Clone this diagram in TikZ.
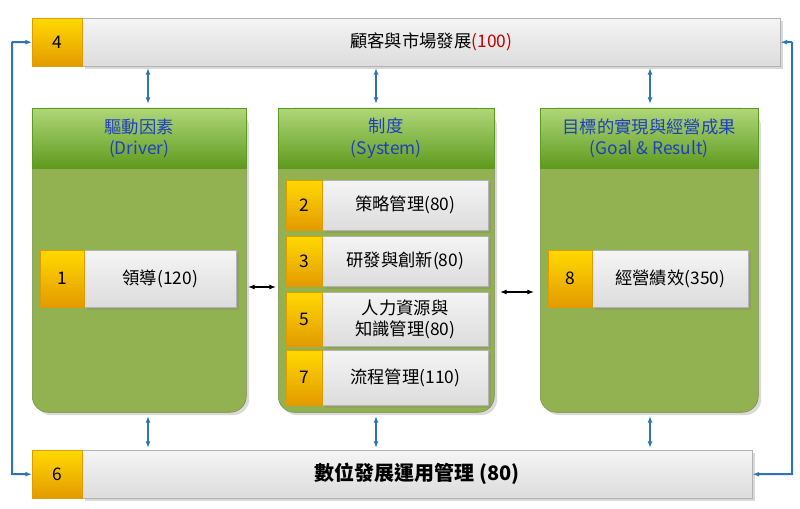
\documentclass[tikz,border=0pt]{standalone}
\usepackage{fontspec}
\newfontfamily\cjk{Noto Sans CJK TC}
\usetikzlibrary{arrows.meta,shadows,calc}
\definecolor{hdr}{HTML}{8DC63F}
\definecolor{hdrd}{HTML}{5E9A1E}
\definecolor{body}{HTML}{92B150}
\definecolor{numc}{HTML}{FFC000}
\definecolor{numd}{HTML}{E39A00}
\definecolor{barg}{HTML}{DCDCDC}
\definecolor{arrb}{HTML}{2E75B6}
\definecolor{htxt}{HTML}{1F3FBF}
\definecolor{dred}{HTML}{C00000}
\begin{document}
\begin{tikzpicture}[x=0.75pt,y=-0.75pt,
 sz/.style 2 args={minimum width=#1*0.75pt,minimum height=#2*0.75pt,anchor=north west},
 num/.style={draw=numd,top color=numc!60!yellow,bottom color=numd,font=\cjk\fontsize{13}{15}\selectfont,inner sep=0pt},
 bar/.style={draw=gray!60,top color=white!70!barg,bottom color=barg,inner sep=0pt,drop shadow={opacity=0.3}},
 col/.style={fill=body,draw=body!80!black,rounded corners=12pt,drop shadow={opacity=0.3}},
 hd/.style={draw=hdrd,top color=hdr!70!white,bottom color=hdrd,inner sep=0pt,align=center,text=htxt,font=\cjk\fontsize{13}{16}\selectfont},
 txt/.style={font=\cjk\fontsize{13}{16}\selectfont,align=center},
 blu/.style={draw=arrb,line width=1.5pt,{Latex[length=5pt]}-{Latex[length=5pt]}},
 blk/.style={draw=black,line width=0.8pt,{Latex[length=5pt]}-{Latex[length=5pt]}}]
\useasboundingbox (0,0) rectangle (800,509);
% top bar
\node[bar,sz={698}{48}] (top) at (82,18) {};
\node[txt] at (top.center) {顧客與市場發展\textcolor{dred}{(100)}};
\node[num,sz={50}{48}] (n4) at (32,18) {4};
% bottom bar
\node[bar,sz={670}{48}] (bot) at (82,450) {};
\node[txt,font=\cjk\bfseries\fontsize{15}{18}\selectfont] at (bot.center) {數位發展運用管理 (80)};
\node[num,sz={50}{48}] (n6) at (32,450) {6};
% columns
\node[col,sz={214}{304}] (c1) at (32,108) {};
\node[col,sz={216}{304}] (c2) at (278,108) {};
\node[col,sz={218}{304}] (c3) at (540,108) {};
\node[hd,sz={214}{60}] (h1) at (32,108) {驅動因素\\(Driver)};
\node[hd,sz={216}{60}] (h2) at (278,108) {制度\\(System)};
\node[hd,sz={218}{60}] (h3) at (540,108) {目標的實現與經營成果\\(Goal \& Result)};
% left item
\node[bar,sz={152}{57}] (g1) at (84,250) {};
\node[txt] at (g1.center) {領導(120)};
\node[num,sz={44}{57}] (n1) at (40,250) {1};
% right item
\node[bar,sz={156}{57}] (g8) at (592,250) {};
\node[txt] at (g8.center) {經營績效(350)};
\node[num,sz={44}{57}] (n8) at (548,250) {8};
% middle items
\foreach \n/\y/\h/\t in {2/180/50/策略管理(80),3/236/50/研發與創新(80),5/292/54/{人力資源與\\知識管理(80)},7/350/55/流程管理(110)}{
 \node[bar,sz={166}{\h}] (g\n) at (322,\y) {};
 \node[txt] at (g\n.center) {\t};
 \node[num,sz={36}{\h}] (n\n) at (286,\y) {\n};
}
% connectors
\coordinate (ta1) at (148,68); \coordinate (tb1) at (148,104);
\coordinate (ta2) at (376,68); \coordinate (tb2) at (376,104);
\coordinate (ta3) at (650,68); \coordinate (tb3) at (650,104);
\coordinate (ba1) at (148,416); \coordinate (bb1) at (148,448);
\coordinate (ba2) at (376,416); \coordinate (bb2) at (376,448);
\coordinate (ba3) at (650,416); \coordinate (bb3) at (650,448);
\foreach \i in {1,2,3}{\draw[blu] (ta\i) -- (tb\i); \draw[blu] (ba\i) -- (bb\i);}
\coordinate (la) at (248,287); \coordinate (lb) at (276,287);
\coordinate (ra) at (500,292); \coordinate (rb) at (534,292);
\draw[blk] (la) -- (lb);
\draw[blk] (ra) -- (rb);
\draw[draw=arrb,line width=1.5pt,-{Latex[length=5pt]}] (12,42) -- (12,474) -- (n6.west);
\draw[draw=arrb,line width=1.5pt,-{Latex[length=5pt]}] (12,42) -- (n4.west);
\draw[draw=arrb,line width=1.5pt,-{Latex[length=5pt]}] (792,42) -- (792,474) -- (bot.east);
\draw[draw=arrb,line width=1.5pt,-{Latex[length=5pt]}] (792,42) -- (top.east);
\end{tikzpicture}
\end{document}
